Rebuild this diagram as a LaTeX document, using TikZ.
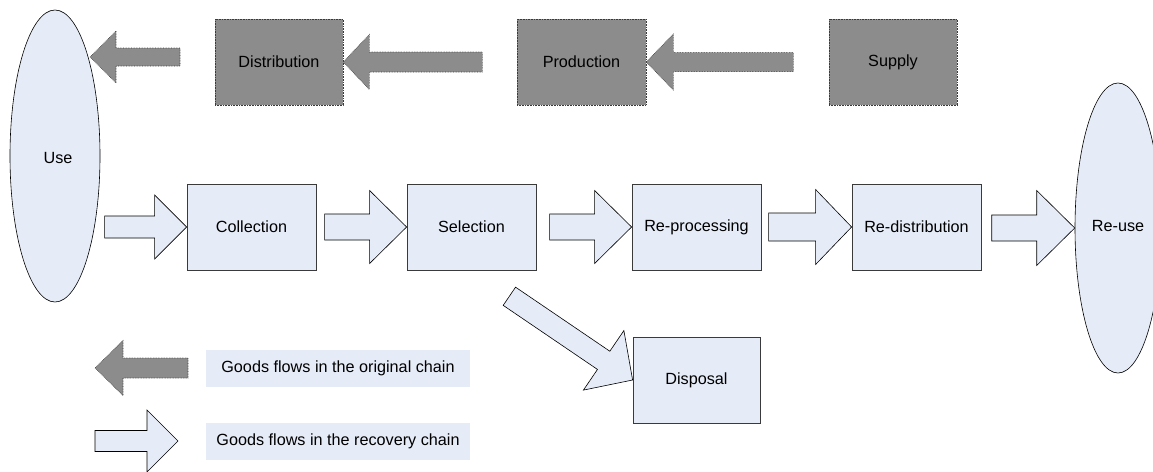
\documentclass[tikz,border=0pt]{standalone}
\usepackage{fontspec}
\setmainfont{Liberation Sans}
\usetikzlibrary{shapes.geometric}
\definecolor{boxgray}{HTML}{8C8C8C}
\definecolor{boxblue}{HTML}{E6ECF7}
\definecolor{edgegray}{HTML}{3A3A3A}
% #1 style, #2 tip, #3 angle, #4 total length, #5 shaft half width, #6 head half width, #7 head length
\newcommand{\blockarr}[7]{\draw[#1,shift={(#2)},rotate=#3] (0,0) -- (-#7,-#6) -- (-#7,-#5) -- (-#4,-#5) -- (-#4,#5) -- (-#7,#5) -- (-#7,#6) -- cycle;}
\begin{document}
\begin{tikzpicture}[x=1pt,y=-1pt,
  font=\fontsize{16.2}{19}\selectfont,
  origbox/.style={rectangle, draw=edgegray, densely dotted, line width=0.6pt, fill=boxgray, minimum width=128pt, minimum height=86pt, inner sep=0pt},
  recbox/.style={rectangle, draw=edgegray, line width=0.8pt, fill=boxblue, minimum width=129pt, minimum height=86pt, inner sep=0pt},
  endell/.style={ellipse, draw=black, line width=0.6pt, fill=boxblue, inner sep=0pt},
  origarrow/.style={draw=edgegray, densely dotted, line width=0.6pt, fill=boxgray},
  recarrow/.style={draw=black, line width=0.6pt, fill=boxblue, line join=miter},
  legendbox/.style={rectangle, fill=boxblue, minimum width=264pt, minimum height=37pt, inner sep=0pt}]
\useasboundingbox (0,0) rectangle (1153,471);
\clip (0,0) rectangle (1153,471);
\fill[white] (0,0) rectangle (1153,471);

% ellipses
\node[endell, minimum width=90pt, minimum height=292pt] (use) at (55,156) {};
\node at (58,158) {Use};
\node[endell, minimum width=86pt, minimum height=290pt] (reuse) at (1118,228) {};
\node at (1118,226) {Re-use};

% original chain
\node[origbox] (dist) at (279,62) {Distribution};
\node[origbox, minimum width=129pt] (prod) at (581.5,62) {Production};
\node[origbox] (supp) at (893,62) {Supply};

% recovery chain
\node[recbox] (coll) at (251.5,227) {Collection};
\node[recbox] (sel) at (471.5,227) {Selection};
\node[recbox] (repr) at (696.5,227) {Re-processing};
\node[recbox] (redi) at (916.5,227) {Re-distribution};
\node[recbox, minimum width=127pt] (disp) at (696.5,380) {Disposal};

% legend
\node[legendbox] (leg1) at (338,368.5) {Goods flows in the original chain};
\node[legendbox] (leg2) at (338,441.5) {Goods flows in the recovery chain};

\coordinate (t1) at (90,57);
\coordinate (lg1) at (95,368);
\coordinate (lg2) at (178,441);

% original chain arrows
\blockarr{origarrow}{t1}{180}{90}{9}{26}{26}
\blockarr{origarrow}{dist.east}{180}{139}{10}{27.5}{26}
\blockarr{origarrow}{prod.east}{180}{147}{9.5}{28}{27}

% recovery chain arrows
\blockarr{recarrow}{coll.west}{0}{82}{11}{32}{32}
\blockarr{recarrow}{sel.west}{0}{82}{13}{36.5}{37}
\blockarr{recarrow}{repr.west}{0}{82}{13}{36.5}{37}
\blockarr{recarrow}{redi.west}{0}{83}{14}{37.5}{36}
\blockarr{recarrow}{reuse.west}{0}{83}{13}{37.5}{38}
\blockarr{recarrow}{disp.west}{-34.2}{149}{11}{36}{35}

% legend arrows
\blockarr{origarrow}{lg1}{180}{93}{10}{27.5}{28}
\blockarr{recarrow}{lg2}{0}{83}{10.5}{31}{31}
\end{tikzpicture}
\end{document}
